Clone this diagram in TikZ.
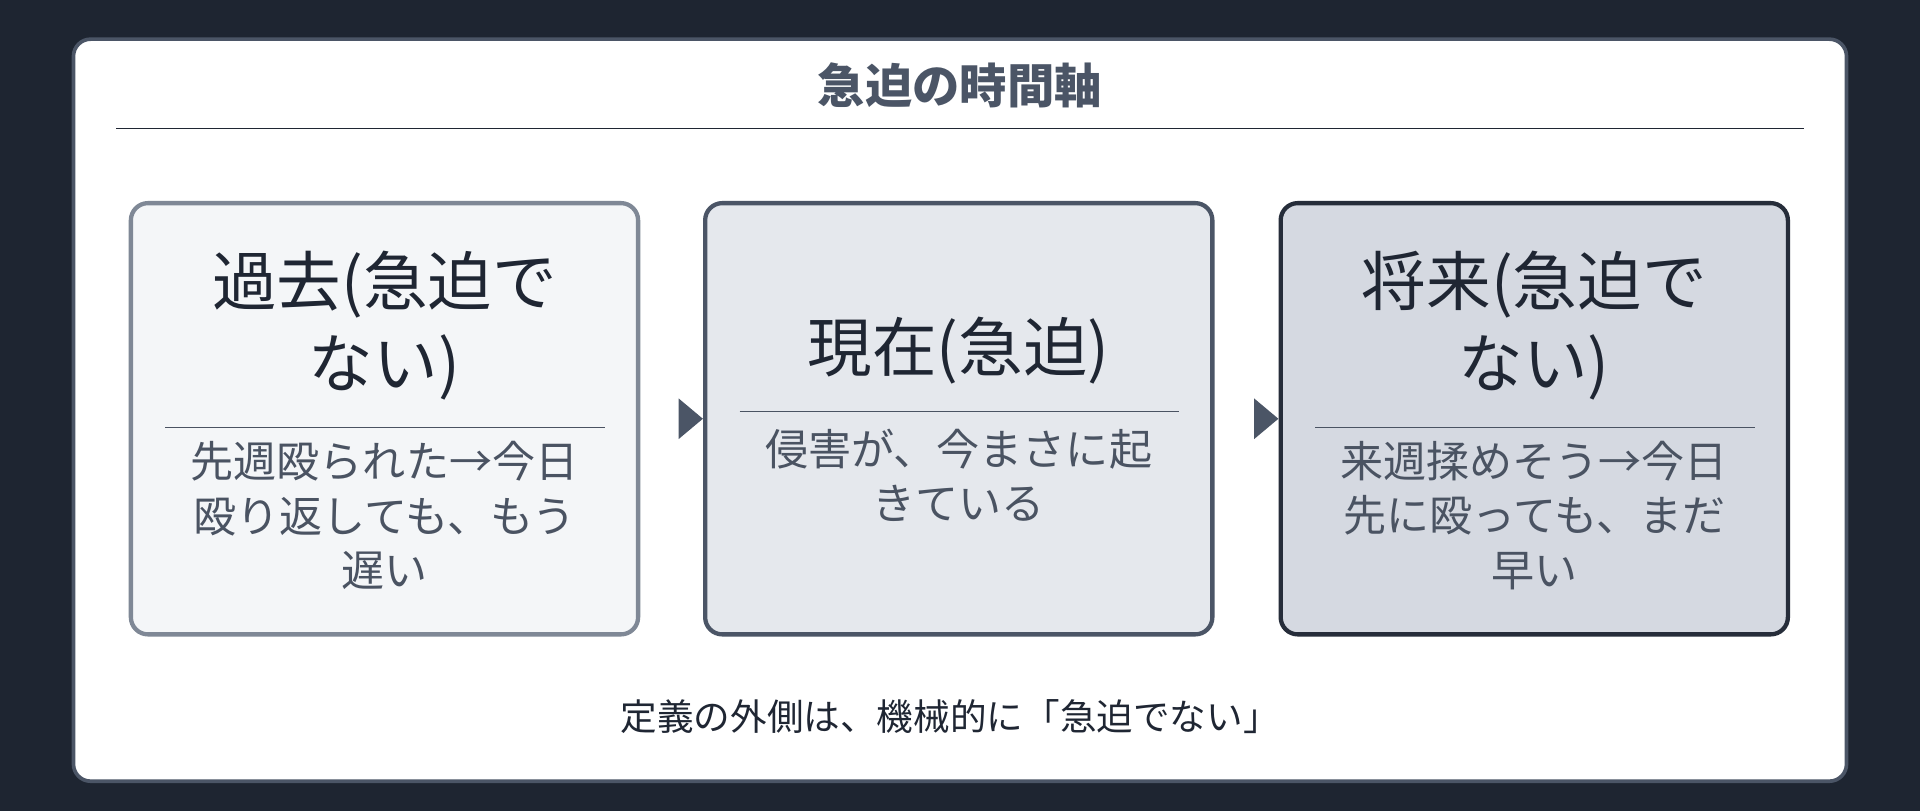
\documentclass[tikz,border=0pt]{standalone}
\usepackage{fontspec}
\setmainfont{Noto Sans CJK JP}
\usetikzlibrary{positioning,arrows.meta}
\definecolor{bgdark}{HTML}{1E2531}
\definecolor{inkdark}{HTML}{1F2633}
\definecolor{inkgray}{HTML}{4A5362}
\definecolor{fillpast}{HTML}{F4F6F8}
\definecolor{drawpast}{HTML}{7F8896}
\definecolor{fillnow}{HTML}{E5E8ED}
\definecolor{drawnow}{HTML}{4B5566}
\definecolor{fillnext}{HTML}{D5D9E1}
\definecolor{drawnext}{HTML}{262D3A}
\tikzset{
  stage/.style={draw=#1, line width=0.035cm, rounded corners=0.14cm,
    minimum width=4.14cm, minimum height=3.52cm, inner sep=0pt},
  head/.style={text=inkdark, font=\fontsize{15}{19}\selectfont, align=center},
  body/.style={text=inkgray, font=\fontsize{10}{12.6}\selectfont, align=center},
  sep/.style={draw=inkgray, line width=0.012cm},
  flow/.style={draw=drawnow, line width=0.06cm, -{Triangle[length=0.2cm,width=0.32cm]}}
}
\begin{document}
\begin{tikzpicture}[x=0.01cm,y=-0.01cm]
    \useasboundingbox (0,0) rectangle (1568,662);
    \fill[bgdark] (0,0) rectangle (1568,662);
    % card
    \filldraw[fill=white, draw=drawnow, line width=0.03cm, rounded corners=0.14cm] (60,32) rectangle (1508,638);
    \node[text=drawnow, font=\bfseries\fontsize{11}{13}\selectfont] (title) at (784,70) {急迫の時間軸};
    \draw[inkdark, line width=0.015cm] (95,105) -- (1473,105);

    % stages
    \node[stage=drawpast, fill=fillpast] (past) at (314,342) {};
    \node[stage=drawnow, fill=fillnow] (now) at (783,342) {};
    \node[stage=drawnext, fill=fillnext] (next) at (1253,342) {};

    \node[head] (pasthead) at (314,266) {過去(急迫で\\ない)};
    \node[head] (nowhead) at (783,286) {現在(急迫)};
    \node[head] (nexthead) at (1253,266) {将来(急迫で\\ない)};

    \draw[sep] (135,349) -- (494,349);
    \draw[sep] (604,336) -- (963,336);
    \draw[sep] (1074,349) -- (1433,349);

    \node[body] (pastbody) at (314,421) {先週殴られた→今日\\殴り返しても、もう\\遅い};
    \node[body] (nowbody) at (783,388) {侵害が、今まさに起\\きている};
    \node[body] (nextbody) at (1253,421) {来週揉めそう→今日\\先に殴っても、まだ\\早い};

    % arrows
    \draw[flow] ([xshift=11]past.east) -- (now.west);
    \draw[flow] ([xshift=11]now.east) -- (next.west);

    \node[text=inkdark, font=\fontsize{8.5}{10}\selectfont] (note) at (776,585) {定義の外側は、機械的に「急迫でない」};
\end{tikzpicture}
\end{document}
